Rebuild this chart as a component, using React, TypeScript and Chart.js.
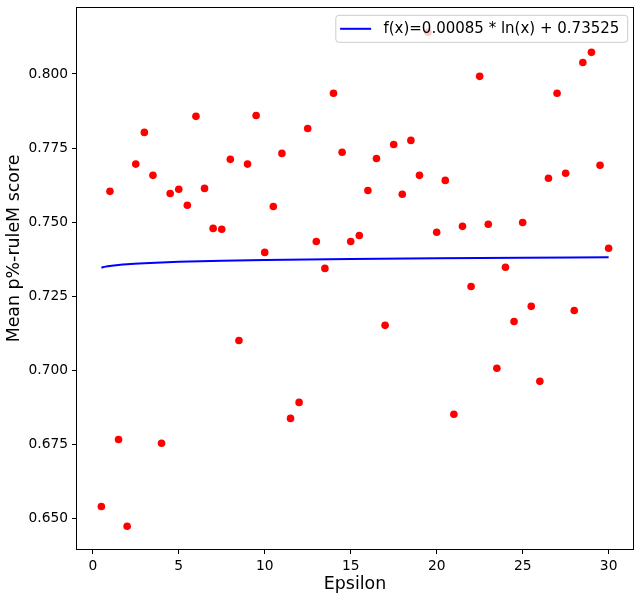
import React, { useEffect, useRef } from "react";
import { Chart, registerables } from "chart.js";

Chart.register(...registerables);

// ---- data ----
const epsilon = [
  0.5, 1.0, 1.5, 2.0, 2.5, 3.0, 3.5, 4.0, 4.5, 5.0,
  5.5, 6.0, 6.5, 7.0, 7.5, 8.0, 8.5, 9.0, 9.5, 10.0,
  10.5, 11.0, 11.5, 12.0, 12.5, 13.0, 13.5, 14.0, 14.5, 15.0,
  15.5, 16.0, 16.5, 17.0, 17.5, 18.0, 18.5, 19.0, 19.5, 20.0,
  20.5, 21.0, 21.5, 22.0, 22.5, 23.0, 23.5, 24.0, 24.5, 25.0,
  25.5, 26.0, 26.5, 27.0, 27.5, 28.0, 28.5, 29.0, 29.5, 30.0,
];
const meanScore = [
  0.6541, 0.7604, 0.6767, 0.6474, 0.7696, 0.7803, 0.7658, 0.6754, 0.7597, 0.7611,
  0.7557, 0.7857, 0.7614, 0.7479, 0.7476, 0.7712, 0.7101, 0.7696, 0.786, 0.7398,
  0.7553, 0.7732, 0.6838, 0.6892, 0.7816, 0.7435, 0.7344, 0.7935, 0.7736, 0.7435,
  0.7455, 0.7607, 0.7715, 0.7152, 0.7762, 0.7594, 0.7776, 0.7658, 0.8141, 0.7466,
  0.7641, 0.6852, 0.7486, 0.7283, 0.7992, 0.7493, 0.7007, 0.7348, 0.7165, 0.7499,
  0.7216, 0.6963, 0.7648, 0.7935, 0.7665, 0.7202, 0.8039, 0.8073, 0.7692, 0.7412,
];
const fitX = [0.5, 0.75, 1, 1.5, 2, 3, 4, 5, 7.5, 10, 15, 20, 25, 30];
const fitY = [
  0.73466, 0.73501, 0.73525, 0.73559, 0.73584, 0.73618, 0.73643, 0.73662,
  0.73696, 0.73721, 0.73755, 0.7378, 0.73799, 0.73814,
];
const xTicks = [0, 5, 10, 15, 20, 25, 30];
const yTicks = [0.65, 0.675, 0.7, 0.725, 0.75, 0.775, 0.8];
const legendLabel = "f(x)=0.00085 * ln(x) + 0.73525";
const xTitle = "Epsilon";
const yTitle = "Mean p%-ruleM score";

const FONT = "'DejaVu Sans', sans-serif";

const overlayPlugin = {
  id: "overlay",
  afterDraw(chart: any) {
    const { ctx, chartArea } = chart;
    const { left, right, top, bottom } = chartArea;
    ctx.save();
    // frame (all four spines)
    ctx.strokeStyle = "#000";
    ctx.lineWidth = 1;
    ctx.strokeRect(left + 0.5, top + 0.5, right - left - 1, bottom - top - 1);

    // y axis title
    ctx.save();
    ctx.translate(14, 248.5);
    ctx.rotate(-Math.PI / 2);
    ctx.font = `17.4px ${FONT}`;
    ctx.fillStyle = "#000";
    ctx.textAlign = "center";
    ctx.textBaseline = "middle";
    ctx.fillText(yTitle, 0, 0);
    ctx.restore();

    // legend
    ctx.font = `15px ${FONT}`;
    const tw = ctx.measureText(legendLabel).width;
    const bw = tw + 47.6 + 8.4;
    const bh = 27;
    const bx = right - 6.3 - bw;
    const by = top + 8.3;
    const r = 3;
    ctx.beginPath();
    ctx.moveTo(bx + r, by);
    ctx.lineTo(bx + bw - r, by);
    ctx.arcTo(bx + bw, by, bx + bw, by + r, r);
    ctx.lineTo(bx + bw, by + bh - r);
    ctx.arcTo(bx + bw, by + bh, bx + bw - r, by + bh, r);
    ctx.lineTo(bx + r, by + bh);
    ctx.arcTo(bx, by + bh, bx, by + bh - r, r);
    ctx.lineTo(bx, by + r);
    ctx.arcTo(bx, by, bx + r, by, r);
    ctx.closePath();
    ctx.fillStyle = "rgba(255,255,255,0.8)";
    ctx.fill();
    ctx.strokeStyle = "#cccccc";
    ctx.lineWidth = 1;
    ctx.stroke();

    ctx.beginPath();
    ctx.strokeStyle = "#0000ff";
    ctx.lineWidth = 2;
    ctx.moveTo(bx + 4.3, by + bh / 2);
    ctx.lineTo(bx + 35.3, by + bh / 2);
    ctx.stroke();

    ctx.fillStyle = "#000";
    ctx.textAlign = "left";
    ctx.textBaseline = "middle";
    ctx.fillText(legendLabel, bx + 47.6, by + bh / 2 + 0.5);
    ctx.restore();
  },
};

export default function App() {
  const canvasRef = useRef<HTMLCanvasElement | null>(null);

  useEffect(() => {
    const canvas = canvasRef.current;
    if (!canvas) return;
    const chart = new Chart(canvas, {
      type: "scatter",
      data: {
        datasets: [
          {
            label: "points",
            data: epsilon.map((x, i) => ({ x, y: meanScore[i] })),
            backgroundColor: "#ff0000",
            borderWidth: 0,
            pointRadius: 3.8,
            pointHoverRadius: 3.8,
          },
          {
            type: "line",
            label: legendLabel,
            data: fitX.map((x, i) => ({ x, y: fitY[i] })),
            borderColor: "#0000ff",
            backgroundColor: "#0000ff",
            borderWidth: 2,
            pointRadius: 0,
            showLine: true,
            fill: false,
            cubicInterpolationMode: "monotone",
          } as any,
        ],
      },
      options: {
        animation: false,
        responsive: false,
        devicePixelRatio: 1,
        events: [],
        layout: { padding: { top: 7, right: 7, left: 0, bottom: 0 } },
        plugins: {
          legend: { display: false },
          tooltip: { enabled: false },
        },
        scales: {
          x: {
            type: "linear",
            min: -0.975,
            max: 31.475,
            afterFit: (s: any) => {
              s.height = 51;
              s.paddingLeft = 0;
              s.paddingRight = 0;
            },
            afterBuildTicks: (s: any) => {
              s.ticks = xTicks.map((v) => ({ value: v }));
            },
            grid: {
              display: true,
              drawOnChartArea: false,
              drawTicks: true,
              tickLength: 4,
              color: "#000",
              tickColor: "#000",
              tickWidth: 1,
            },
            border: { display: false },
            ticks: {
              color: "#000",
              font: { family: FONT, size: 13.8 },
              padding: 4,
              maxRotation: 0,
              autoSkip: false,
              callback: (v: any) => String(v),
            },
            title: {
              display: true,
              text: xTitle,
              color: "#000",
              font: { family: FONT, size: 17.4 },
              padding: { top: 0, bottom: 6 },
            },
          },
          y: {
            type: "linear",
            min: 0.6394,
            max: 0.8226,
            afterFit: (s: any) => {
              s.width = 76;
              s.paddingTop = 0;
              s.paddingBottom = 0;
            },
            afterBuildTicks: (s: any) => {
              s.ticks = yTicks.map((v) => ({ value: v }));
            },
            grid: {
              display: true,
              drawOnChartArea: false,
              drawTicks: true,
              tickLength: 4,
              color: "#000",
              tickColor: "#000",
              tickWidth: 1,
            },
            border: { display: false },
            ticks: {
              color: "#000",
              font: { family: FONT, size: 13.8 },
              padding: 4,
              autoSkip: false,
              callback: (v: any) => Number(v).toFixed(3),
            },
          },
        },
      },
      plugins: [overlayPlugin],
    });
    return () => chart.destroy();
  }, []);

  return (
    <div style={{ position: "absolute", left: 0, top: 0, width: 641, height: 601 }}>
      <canvas
        ref={canvasRef}
        width={641}
        height={601}
        style={{ display: "block", width: 641, height: 601 }}
      />
    </div>
  );
}
